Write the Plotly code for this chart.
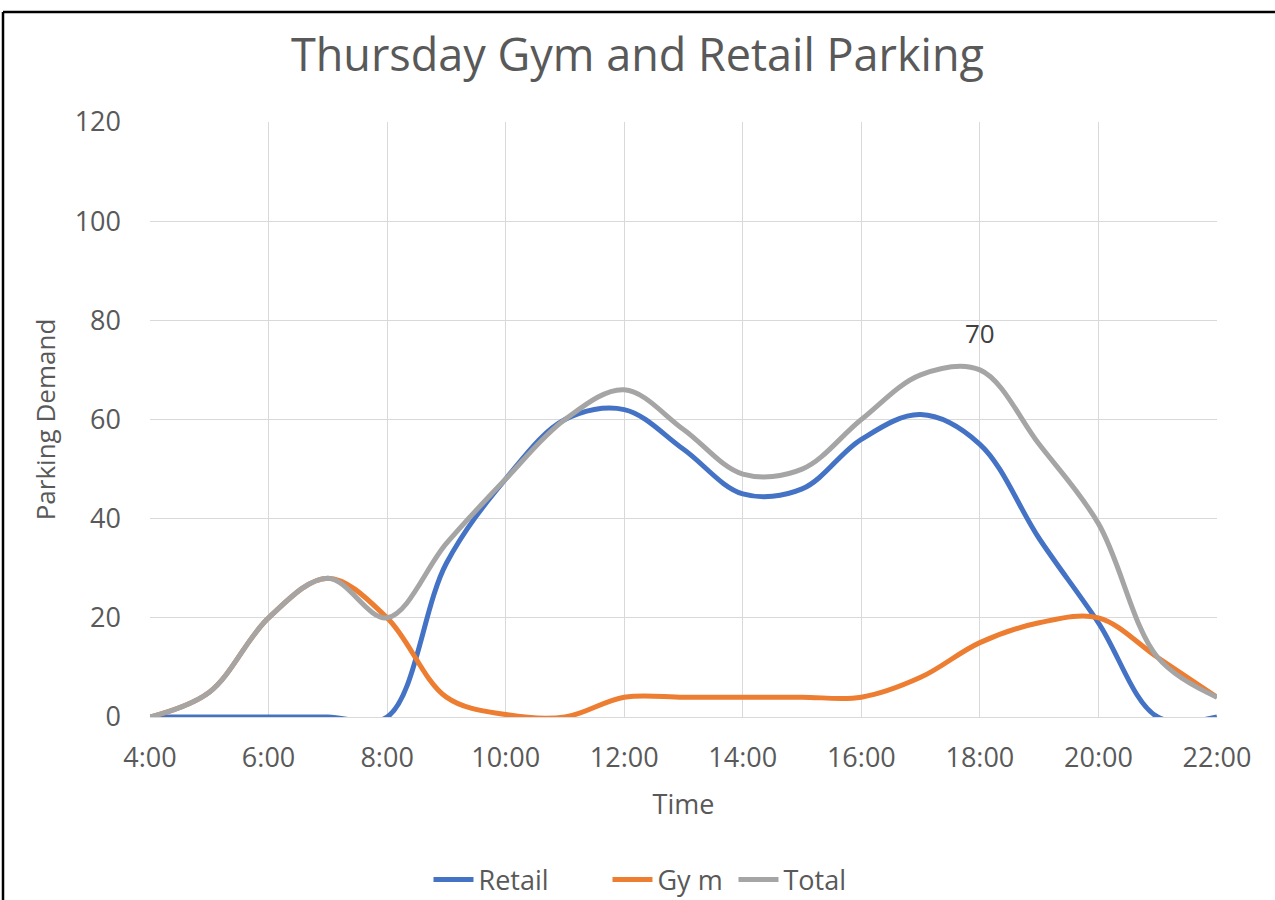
import plotly.graph_objects as go

hours = [4, 5, 6, 7, 8, 9, 10, 11, 12, 13, 14, 15, 16, 17, 18, 19, 20, 21, 22]
retail = [0, 0, 0, 0, 0, 31, 48, 60, 62, 54, 45, 46, 56, 61, 55, 36, 19, 0, 0]
gym = [0, 5, 20, 28, 20, 4, 0.5, 0, 4, 4, 4, 4, 4, 8, 15, 19, 20, 12, 4]
total = [0, 5, 20, 28, 20, 35, 48, 60, 66, 58, 49, 50, 60, 69, 70, 55, 39, 12, 4]

tick_hours = [4, 6, 8, 10, 12, 14, 16, 18, 20, 22]
tick_labels = ["4:00", "6:00", "8:00", "10:00", "12:00", "14:00", "16:00", "18:00", "20:00", "22:00"]

label_hour = 18
label_value = 70

FONT = "Open Sans"
GREY = "#595959"

fig = go.Figure()
series = [("Retail", retail, "#4472C4", 124), ("Gy m", gym, "#ED7D31", 71), ("Total", total, "#A5A5A5", 70)]
for name, vals, col, lw in series:
    fig.add_trace(go.Scatter(
        x=hours, y=vals, name=name, mode="lines", legendwidth=lw,
        line=dict(color=col, width=5, shape="spline", smoothing=1.0),
    ))

fig.add_annotation(x=label_hour, y=label_value, text=str(label_value), showarrow=False,
                   yshift=37, font=dict(family=FONT, size=26, color="#404040"))

fig.update_layout(
    width=1275, height=900,
    paper_bgcolor="white", plot_bgcolor="white",
    margin=dict(l=150, r=58, t=122, b=183, autoexpand=False),
    title=dict(text="Thursday Gym and Retail Parking", x=0.5, xanchor="center",
               y=1 - 55 / 900, yanchor="middle",
               font=dict(family=FONT, size=45, color=GREY)),
    font=dict(family=FONT, color=GREY),
    showlegend=True,
    legend=dict(orientation="h", x=0.4625, xanchor="center", y=-163 / 595, yanchor="middle",
                font=dict(family=FONT, size=27, color=GREY), itemwidth=40,
                traceorder="normal"),
    xaxis=dict(range=[4, 22], tickvals=tick_hours, ticktext=tick_labels,
               showgrid=True, gridcolor="#D9D9D9", gridwidth=1,
               showline=True, linecolor="#D9D9D9", linewidth=1,
               zeroline=False, ticks="", tickfont=dict(size=27, color=GREY),
               ticklabelstandoff=17, automargin=False,
               title=dict(text="Time", font=dict(size=27, color=GREY), standoff=20)),
    yaxis=dict(range=[0, 120], dtick=20, showgrid=True, gridcolor="#D9D9D9", gridwidth=1,
               zeroline=False, showline=False, ticks="", ticklen=0,
               tickfont=dict(size=27, color=GREY), ticklabelstandoff=28, automargin=False,
               title=dict(text="Parking Demand", font=dict(size=26, color=GREY), standoff=11)),
)

# outer frame lines (top and left) as in the reference screenshot
fx = -147 / 1067
fy = 705 / 595
fig.add_shape(type="line", xref="paper", yref="paper",
              x0=fx, x1=1.1, y0=fy, y1=fy,
              line=dict(color="black", width=2.5))
fig.add_shape(type="line", xref="paper", yref="paper",
              x0=fx, x1=fx, y0=fy, y1=-0.4,
              line=dict(color="black", width=2.5))

fig.write_html("out.html", config={"displayModeBar": False},
               post_script="document.body.style.margin='0';")
